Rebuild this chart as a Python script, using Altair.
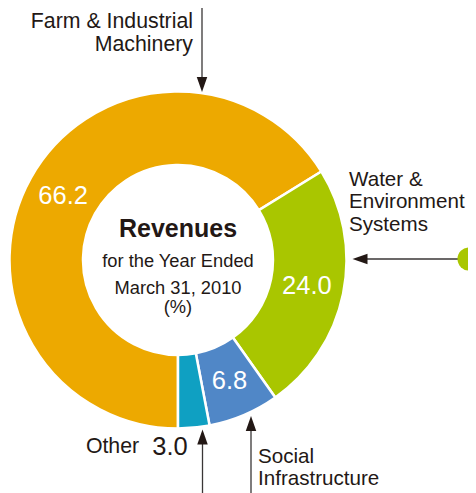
import math
import altair as alt
import pandas as pd

# ---- data ----
segments = ["Farm & Industrial Machinery", "Water & Environment Systems",
            "Social Infrastructure", "Other"]
shares = [66.2, 24.0, 6.8, 3.0]
seg_order = [1, 2, 3, 4]
seg_colors = ["#EDA900", "#A9C600", "#5087C7", "#0FA0C2"]

center_title = "Revenues"
center_lines = ["for the Year Ended", "March 31, 2010", "(%)"]

df = pd.DataFrame({"segment": segments, "share": shares, "order": seg_order})
one = pd.DataFrame({"k": [0]})

FONT = "Liberation Sans, Arial, Helvetica, sans-serif"
INK = "#231815"
LINE = "#3a3636"
CX, CY = 170, 252
LBL = 21.3

theta = alt.Theta("share:Q", stack=True,
                  scale=alt.Scale(range=[math.pi, 3 * math.pi]))
color = alt.Color("segment:N", scale=alt.Scale(domain=segments, range=seg_colors),
                  legend=None)

arcs = alt.Chart(df).mark_arc(innerRadius=95, outerRadius=168.5,
                              stroke="white", strokeWidth=2.5).encode(
    theta=theta, color=color, order=alt.Order("order:Q"),
    x=alt.value(CX), y=alt.value(CY))

inner_labels = alt.Chart(df).mark_text(
    radius=131.5, fontSize=25.5, font=FONT, color="white",
    align="center", baseline="middle").encode(
    theta=theta, order=alt.Order("order:Q"),
    text=alt.Text("share:Q", format=".1f"),
    opacity=alt.condition("datum.segment == 'Other'", alt.value(0), alt.value(1)),
    x=alt.value(CX), y=alt.value(CY))

other_value = alt.Chart(df).transform_filter("datum.segment == 'Other'").mark_text(
    fontSize=25.5, font=FONT, color=INK, align="center", baseline="alphabetic").encode(
    text=alt.Text("share:Q", format=".1f"), x=alt.value(162), y=alt.value(447))


def txt(s, x, y, size=LBL, align="left", bold=False):
    return alt.Chart(one).mark_text(
        text=s, fontSize=size, font=FONT, color=INK, align=align,
        baseline="alphabetic", fontWeight="bold" if bold else "normal").encode(
        x=alt.value(x), y=alt.value(y))


def rule(x, y, x2, y2):
    return alt.Chart(one).mark_rule(color=LINE, strokeWidth=1.3).encode(
        x=alt.value(x), y=alt.value(y), x2=alt.value(x2), y2=alt.value(y2))


def head(x, y, path):
    return alt.Chart(one).mark_point(shape=path, filled=True, size=225,
                                     color=INK, opacity=1, strokeWidth=0).encode(
        x=alt.value(x), y=alt.value(y))


DOWN = "M-0.7,-1L0.7,-1L0,1Z"
UP = "M-0.7,1L0.7,1L0,-1Z"
LEFT = "M1,-0.7L1,0.7L-1,0Z"

WS = 20.6  # right-hand group must fit before the page edge

layers = [
    arcs, inner_labels, other_value,
    txt(center_title, CX, 229, size=25, align="center", bold=True),
    txt(center_lines[0], CX, 259, size=18.3, align="center"),
    txt(center_lines[1], CX, 286, size=18.3, align="center"),
    txt(center_lines[2], CX, 305, size=18.3, align="center"),
    txt("Farm & Industrial", 185, 20, align="right"),
    txt("Machinery", 185, 43, align="right"),
    txt("Water &", 341, 178, size=WS),
    txt("Environment", 341, 200, size=WS),
    txt("Systems", 341, 223, size=WS),
    txt("Other", 104.5, 445, align="center"),
    txt("Social", 250, 455, size=WS),
    txt("Infrastructure", 250, 477, size=WS),
    # arrows
    rule(194, 0, 194, 72), head(194, 76.5, DOWN),
    rule(358, 251, 455, 251), head(352, 251, LEFT),
    rule(194.5, 434, 194.5, 485), head(194.5, 429, UP),
    rule(243, 421, 243, 485), head(243, 415.5, UP),
    alt.Chart(one).mark_point(shape="circle", filled=True, size=529,
                              color=seg_colors[1], opacity=1, strokeWidth=0).encode(
        x=alt.value(461), y=alt.value(251)),
]

chart = alt.layer(*layers).properties(
    width=460, height=485, padding=0, autosize="none"
).configure_view(stroke=None)

chart.save("out.html", embed_options={"renderer": "svg", "actions": False})
